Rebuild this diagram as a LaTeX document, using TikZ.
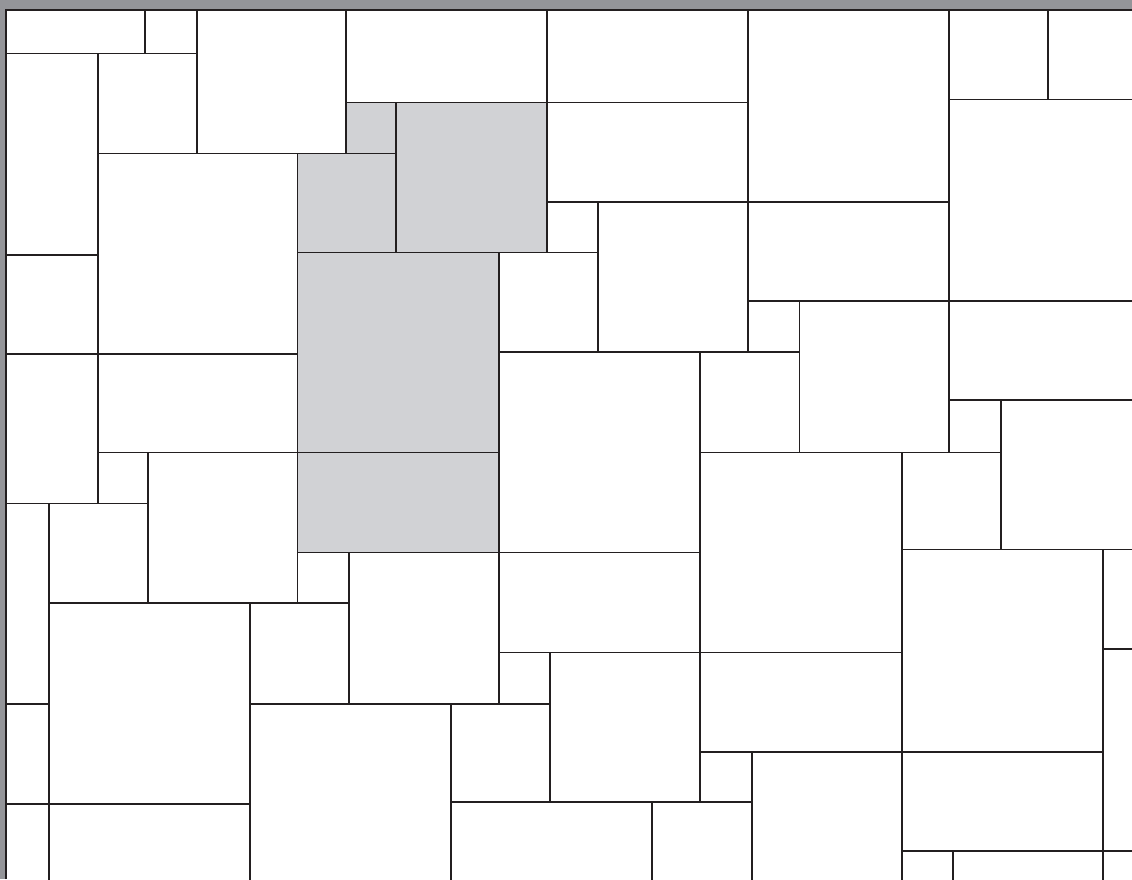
\documentclass[tikz,border=0pt]{standalone}
\usepackage{tikz}

\definecolor{framegray}{RGB}{148,149,153}
\definecolor{tilegray}{RGB}{209,210,213}
\definecolor{groutline}{RGB}{35,31,32}
\tikzset{
  tile/.style={draw=groutline, line width=1.4pt, fill=white},
  shaded/.style={tile, fill=tilegray}
}

\begin{document}
\begin{tikzpicture}[x=1pt,y=-1pt]
  \useasboundingbox (0,0) rectangle (1132,879);
  \fill[framegray] (0,0) rectangle (1132,879);
  \begin{scope}
    \clip (7,10.5) rectangle (1132,879);
    % top band
    \draw[tile] (0,0) rectangle (145,53.5);
    \draw[tile] (145,0) rectangle (197,53.5);
    \draw[tile] (197,0) rectangle (346,153.5);
    \draw[tile] (346,0) rectangle (547,102.5);
    \draw[tile] (547,0) rectangle (748,102.5);
    \draw[tile] (748,0) rectangle (949,202);
    \draw[tile] (949,0) rectangle (1048,99.5);
    \draw[tile] (1048,0) rectangle (1140,99.5);
    % left column
    \draw[tile] (0,53.5) rectangle (98,255);
    \draw[tile] (0,255) rectangle (98,354);
    \draw[tile] (0,354) rectangle (98,503.5);
    \draw[tile] (0,503.5) rectangle (49,704);
    \draw[tile] (0,704) rectangle (49,804);
    \draw[tile] (0,804) rectangle (49,890);
    % left middle
    \draw[tile] (98,53.5) rectangle (197,153.5);
    \draw[tile] (98,153.5) rectangle (297.5,354);
    \draw[tile] (98,354) rectangle (297.5,452.5);
    \draw[tile] (98,452.5) rectangle (148,503.5);
    \draw[tile] (148,452.5) rectangle (297.5,603);
    \draw[tile] (49,503.5) rectangle (148,603);
    \draw[tile] (49,603) rectangle (250,804);
    \draw[tile] (49,804) rectangle (250,890);
    \draw[tile] (250,603) rectangle (349,704);
    \draw[tile] (297.5,552.5) rectangle (349,603);
    \draw[tile] (349,552.5) rectangle (499,704);
    \draw[tile] (250,704) rectangle (451,890);
    % shaded group
    \draw[shaded] (346,102.5) rectangle (396,153.5);
    \draw[shaded] (396,102.5) rectangle (547,252.5);
    \draw[shaded] (297.5,153.5) rectangle (396,252.5);
    \draw[shaded] (297.5,252.5) rectangle (499,452.5);
    \draw[shaded] (297.5,452.5) rectangle (499,552.5);
    % centre
    \draw[tile] (547,102.5) rectangle (748,202);
    \draw[tile] (547,202) rectangle (598,252.5);
    \draw[tile] (598,202) rectangle (748,352);
    \draw[tile] (499,252.5) rectangle (598,352);
    \draw[tile] (499,352) rectangle (700,552.5);
    \draw[tile] (499,552.5) rectangle (700,652.5);
    \draw[tile] (499,652.5) rectangle (550,704);
    \draw[tile] (550,652.5) rectangle (700,802);
    \draw[tile] (451,704) rectangle (550,802);
    \draw[tile] (451,802) rectangle (652,890);
    \draw[tile] (652,802) rectangle (752,890);
    % right middle
    \draw[tile] (748,202) rectangle (949,301);
    \draw[tile] (748,301) rectangle (799.5,352);
    \draw[tile] (799.5,301) rectangle (949,452.5);
    \draw[tile] (700,352) rectangle (799.5,452.5);
    \draw[tile] (700,452.5) rectangle (902,652.5);
    \draw[tile] (700,652.5) rectangle (902,752);
    \draw[tile] (700,752) rectangle (752,802);
    \draw[tile] (752,752) rectangle (902,890);
    % right column
    \draw[tile] (949,99.5) rectangle (1140,301);
    \draw[tile] (949,301) rectangle (1140,400);
    \draw[tile] (949,400) rectangle (1001,452.5);
    \draw[tile] (1001,400) rectangle (1140,549.5);
    \draw[tile] (902,452.5) rectangle (1001,549.5);
    \draw[tile] (902,549.5) rectangle (1103,752);
    \draw[tile] (1103,549.5) rectangle (1140,649);
    \draw[tile] (1103,649) rectangle (1140,851);
    \draw[tile] (902,752) rectangle (1103,851);
    \draw[tile] (902,851) rectangle (953,890);
    \draw[tile] (953,851) rectangle (1103,890);
    \draw[tile] (1103,851) rectangle (1140,890);
  \end{scope}
  % frame edge
  \draw[groutline, line width=2.2pt] (6.3,879) -- (6.3,9.9) -- (1132,9.9);
\end{tikzpicture}
\end{document}
